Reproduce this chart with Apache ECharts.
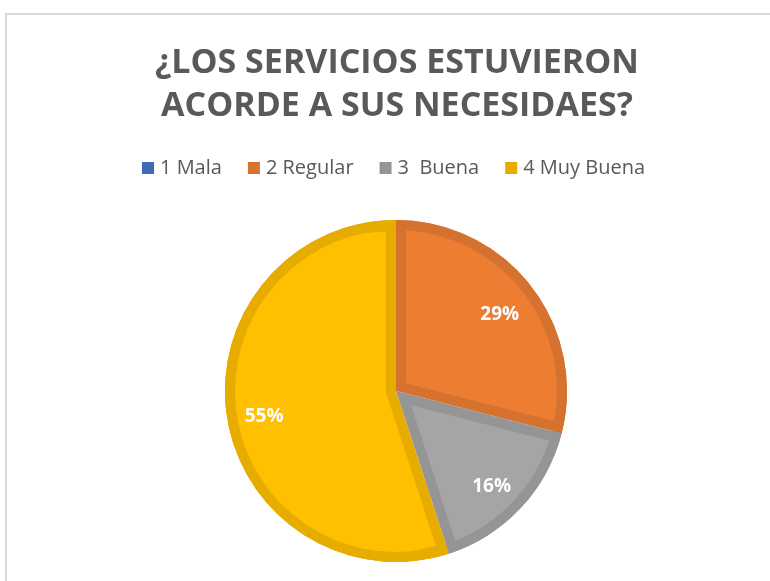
<!DOCTYPE html>
<html>
<head>
<meta charset="utf-8">
<script src="https://cdn.jsdelivr.net/npm/echarts@6/dist/echarts.min.js"></script>
<style>
html,body{margin:0;padding:0;background:#fff;}
#main{width:770px;height:581px;}
</style>
</head>
<body>
<div id="main"></div>
<script>
// datos de la grafica
var categorias = ['1 Mala', '2 Regular', '3  Buena', '4 Muy Buena'];
var valores = [0, 29, 16, 55];
var coloresRelleno = ['#4472C4', '#ED7D31', '#A5A5A5', '#FFC000'];
var coloresBorde = ['#3F68B5', '#D67230', '#959595', '#E6AC00'];

var centro = [396, 391];
var radio = 171;
var banda = 10; // grosor del borde interior de cada sector

var myChart = echarts.init(document.getElementById('main'));

var total = 0;
for (let i in valores) total += valores[i];

var datosBorde = [];
var datosEtiqueta = [];
for (let i in categorias) {
  datosBorde.push({name: categorias[i], value: valores[i], itemStyle: {color: coloresBorde[i]}});
  datosEtiqueta.push({name: categorias[i], value: valores[i]});
}

var series = [];
// sector oscuro completo
series.push({
  name: 'borde',
  type: 'pie',
  z: 1,
  center: centro,
  radius: radio,
  startAngle: 90,
  silent: true,
  label: {show: false},
  labelLine: {show: false},
  data: datosBorde
});

// relleno claro de cada sector, desplazado hacia fuera para dejar la banda oscura en los lados
for (let i in categorias) {
  if (!valores[i]) continue;
  let medio = Math.PI * valores[i] / total;
  let desp = banda / Math.sin(medio);
  let r = Math.min(radio - banda - desp * Math.cos(medio), radio - desp);
  let datos = [];
  for (let j in categorias) {
    datos.push({
      name: categorias[j], value: valores[j], selected: j === i,
      itemStyle: {color: j === i ? coloresRelleno[j] : 'rgba(0,0,0,0)'}
    });
  }
  series.push({
    name: 'relleno' + i,
    type: 'pie',
    z: 2,
    center: centro,
    radius: r,
    startAngle: 90,
    silent: true,
    selectedMode: 'multiple',
    selectedOffset: desp,
    label: {show: false},
    labelLine: {show: false},
    data: datos
  });
}

// anillo oscuro exterior
series.push({
  name: 'anillo',
  type: 'pie',
  z: 3,
  center: centro,
  radius: [radio - banda, radio],
  startAngle: 90,
  silent: true,
  label: {show: false},
  labelLine: {show: false},
  data: datosBorde
});

// etiquetas de porcentaje
series.push({
  name: 'etiquetas',
  type: 'pie',
  z: 4,
  center: [395, 396],
  radius: [88, 171],
  startAngle: 90,
  silent: true,
  itemStyle: {color: 'rgba(0,0,0,0)'},
  label: {
    show: true,
    position: 'inside',
    formatter: function (p) { return p.value ? Math.round(p.percent) + '%' : ''; },
    fontFamily: 'Open Sans',
    fontWeight: 'bold',
    fontSize: 19,
    color: '#fff'
  },
  labelLine: {show: false},
  data: datosEtiqueta
});

var legendData = [];
for (let i in categorias) {
  legendData.push({name: categorias[i], itemStyle: {color: coloresBorde[i], borderWidth: 0}});
}

var option = {
  animation: false,
  title: {
    text: '¿LOS SERVICIOS ESTUVIERON\nACORDE A SUS NECESIDAES?',
    left: 392,
    top: 37,
    textAlign: 'center',
    textStyle: {
      fontFamily: 'Open Sans',
      fontWeight: 'bold',
      fontSize: 34,
      lineHeight: 43,
      color: '#595959'
    }
  },
  legend: {
    data: legendData,
    left: 137,
    top: 153,
    icon: 'rect',
    itemWidth: 12,
    itemHeight: 12,
    itemGap: 26,
    selectedMode: false,
    textStyle: {fontFamily: 'Open Sans', fontSize: 20, color: '#595959', padding: [0, 0, 0, 1]}
  },
  graphic: [{
    type: 'rect',
    silent: true,
    shape: {x: 6, y: 14, width: 800, height: 600},
    style: {fill: 'none', stroke: '#d9d9d9', lineWidth: 2}
  }],
  series: series
};
myChart.setOption(option);
</script>
</body>
</html>
